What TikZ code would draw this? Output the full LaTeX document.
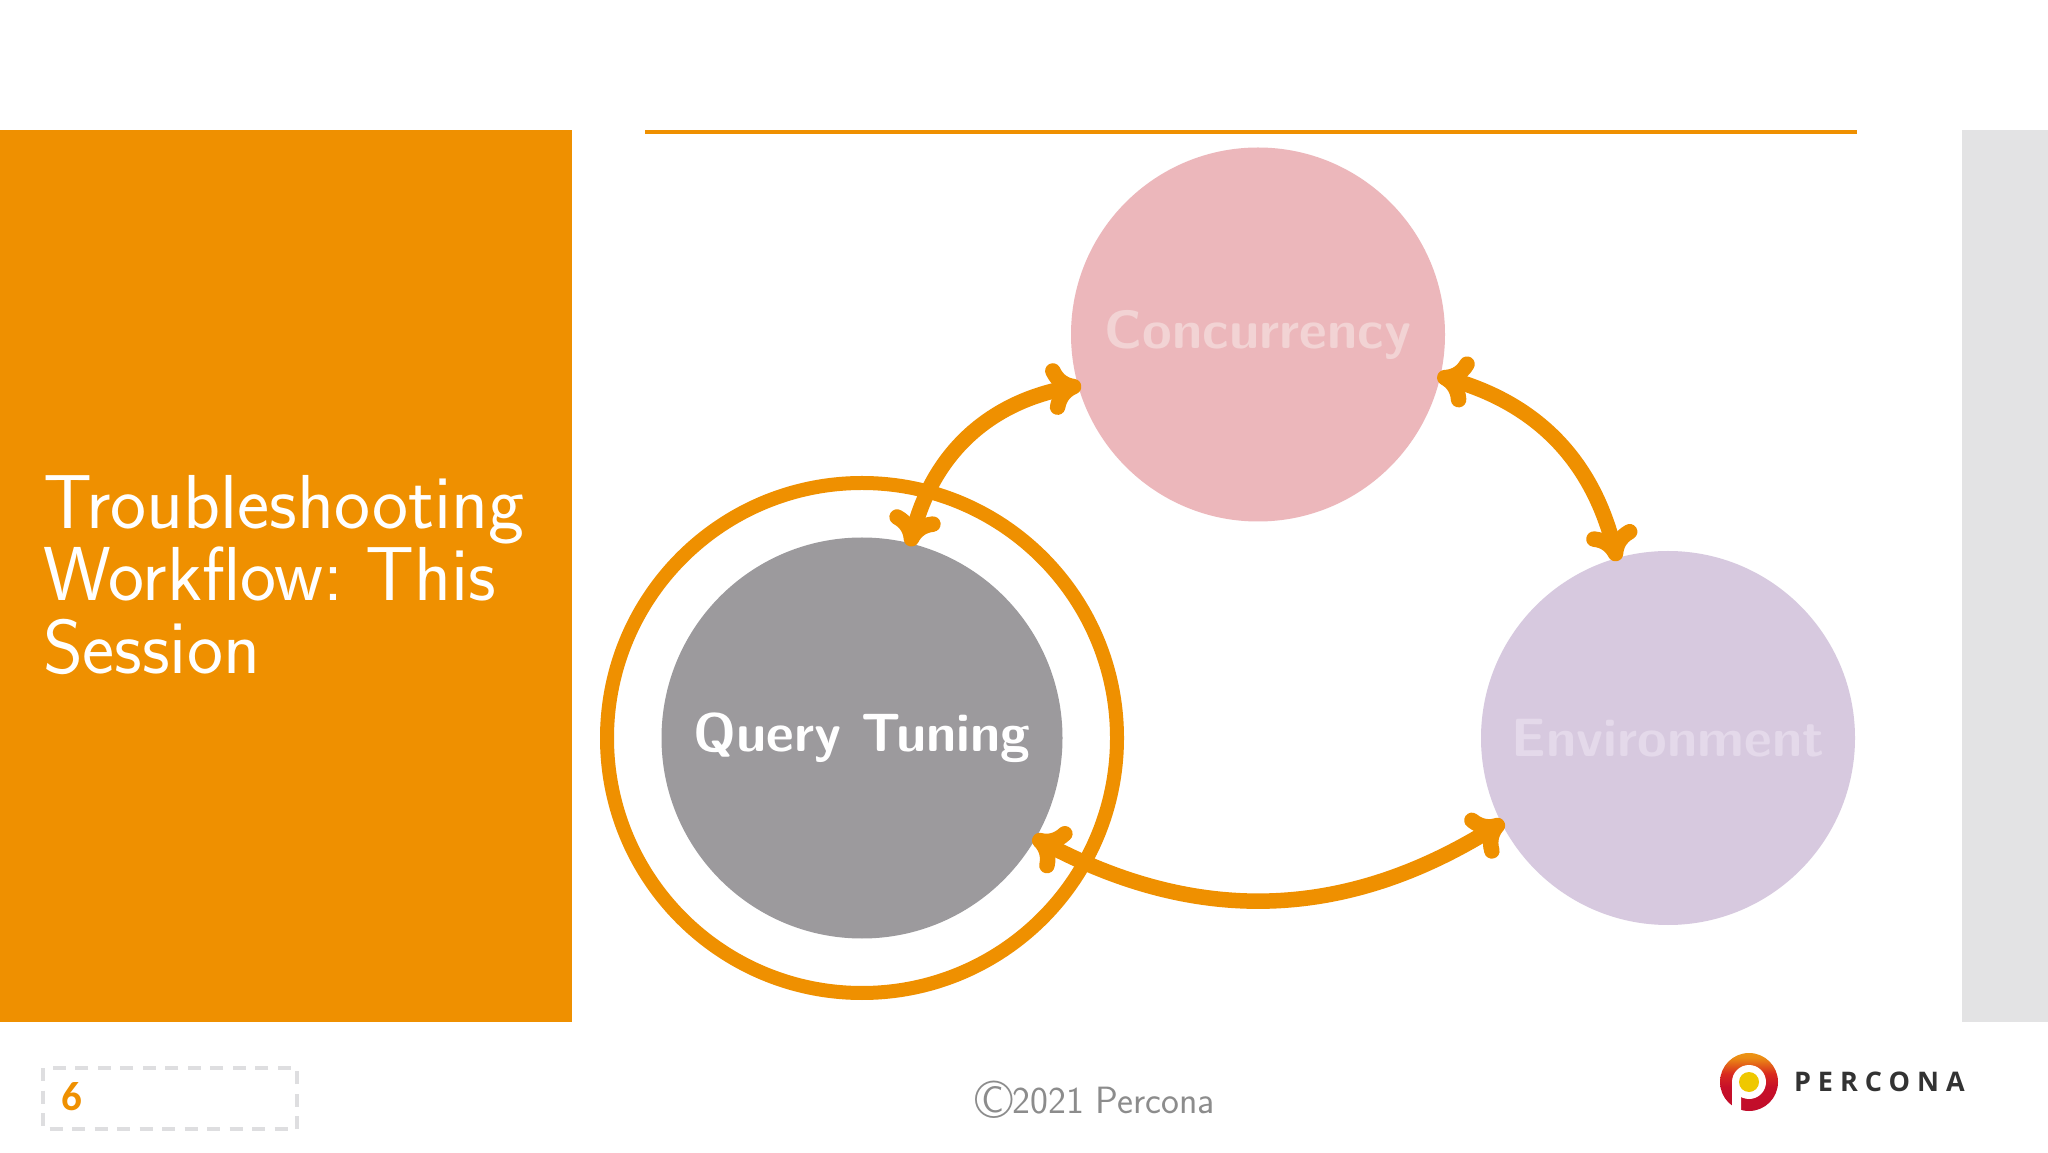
\documentclass[tikz,border=0pt]{standalone}
\usepackage{fontspec}
\usetikzlibrary{arrows.meta,bending}
\definecolor{porange}{HTML}{EF9000}
\definecolor{ppink}{HTML}{ECB7BB}
\definecolor{ppinktxt}{HTML}{F2D3D4}
\definecolor{plilac}{HTML}{D7C9DF}
\definecolor{plilactxt}{HTML}{E4D9EA}
\definecolor{pgrey}{HTML}{9C9A9D}
\definecolor{ppanel}{HTML}{E3E3E4}
\definecolor{pdash}{HTML}{DEDEE0}
\definecolor{logodot}{HTML}{EFC800}
\pgfdeclareverticalshading{logoshade}{58bp}{
  rgb(0bp)=(0.75,0.05,0.17); rgb(25bp)=(0.78,0.06,0.16); rgb(36bp)=(0.85,0.16,0.12);
  rgb(50bp)=(0.92,0.55,0.08); rgb(58bp)=(0.93,0.62,0.08)}
\newfontfamily\logofont[LetterSpace=26]{Open Sans Bold}
\newfontfamily\numfont{Carlito}
\tikzset{
  every node/.style={inner sep=0pt,outer sep=0pt},
  topic/.style={circle,minimum size=374pt,font=\sffamily\bfseries\fontsize{54}{54}\selectfont},
  link/.style={draw=porange,line width=15.5pt,shorten >=-3pt,shorten <=-3pt,
    {Computer Modern Rightarrow[length=34pt,width=52pt,line cap=round]}-{Computer Modern Rightarrow[length=34pt,width=52pt,line cap=round]}},
}
\begin{document}
\begin{tikzpicture}[x=1pt,y=1pt]
\useasboundingbox (0,0) rectangle (2048,1152);
\fill[white] (0,0) rectangle (2048,1152);
\fill[porange] (0,130) rectangle (572,1022);
\fill[ppanel] (1962,130) rectangle (2048,1022);
\draw[porange,line width=3.5pt] (645,1020) -- (1857,1020);
\node[anchor=north west,align=left,text=white,font=\sffamily\fontsize{76.5}{72.5}\selectfont] (titletext) at (43,677)
  {\frenchspacing\fontsize{76.5}{72.5}\selectfont Troubleshooting\\Workflow:\hspace{-10pt} This\\Session};
\node[topic,fill=ppink,text=ppinktxt] (c) at (1258,817.5) {Concurrency};
\node[topic,fill=plilac,text=plilactxt] (e) at (1668,414) {Environment};
\node[topic,minimum size=401pt,fill=pgrey,text=white] (q) at (862,414) {Query Tuning};
\draw[porange,line width=14pt] (q) circle (255pt);
\draw[link] (c.196) to[bend right=35] (q.76);
\draw[link] (c.-13) to[bend left=32] (e.106);
\draw[link] (q.-30) to[bend right=31] (e.207);
\draw[pdash,line width=3.5pt,dash pattern=on 13pt off 9.5pt] (43,84) rectangle (297,23);
\node[anchor=base west,text=porange,font=\numfont\bfseries\fontsize{41}{41}\selectfont] (num) at (61,42) {6};
\node[anchor=base,text=black!45,font=\sffamily\fontsize{38}{38}\selectfont] (copy) at (1095,39) {{\fontsize{54}{54}\selectfont\raisebox{-5pt}{\textcopyright}}2021 Percona};
% logo
\shade[shading=logoshade] (1749,70) circle (29pt);
\fill[white] (1749,70) circle (17pt);
\fill[white] (1732,70) -- (1741,70) -- (1741,40) -- (1735,41.5) -- (1732,44) -- cycle;
\fill[logodot] (1749,70) circle (10pt);
\node[anchor=base west,text=black!80,font=\logofont\fontsize{27}{27}\selectfont] (logo) at (1794,60.5) {PERCONA};
\end{tikzpicture}
\end{document}
